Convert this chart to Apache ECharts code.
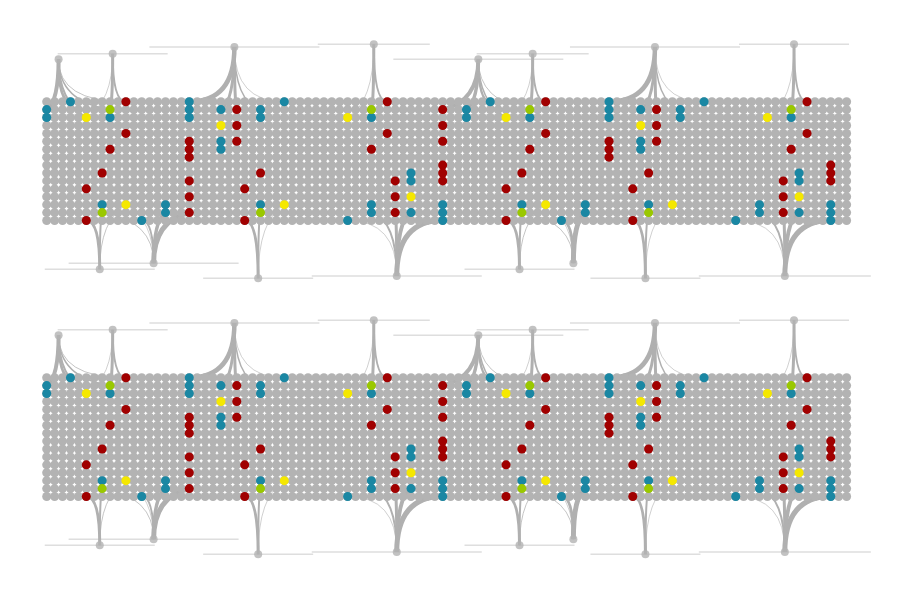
<!DOCTYPE html>
<html><head><meta charset="utf-8">
<script src="https://cdn.jsdelivr.net/npm/echarts@6/dist/echarts.min.js"></script>
<style>html,body{margin:0;padding:0;background:#fff}#c{width:898px;height:614px}</style>
</head><body><div id="c"></div>
<script>
// ---- categories (cell lattice) ----
const columns = Array.from({length: 102}, (_, i) => i);
const rowsIdx = Array.from({length: 16}, (_, i) => i);

// ---- highlighted cells [column, row] ----
const tealNodes = [[0,1],[0,2],[3,0],[7,13],[8,2],[12,15],[15,13],[15,14],[18,0],[18,1],[18,2],[22,1],[22,5],[22,6],[27,1],[27,2],[27,13],[30,0],[38,15],[41,2],[41,13],[41,14],[46,9],[46,10],[46,14],[50,13],[50,14],[50,15],
  [53,1],[53,2],[56,0],[60,13],[61,2],[65,15],[68,13],[68,14],[71,0],[71,1],[71,2],[75,1],[75,5],[75,6],[76,13],[80,1],[80,2],[83,0],[87,15],[90,13],[90,14],[94,2],[95,9],[95,10],[95,14],[99,13],[99,14],[99,15]];
const redNodes = [[5,11],[5,15],[7,9],[8,6],[10,0],[10,4],[18,5],[18,6],[18,7],[18,10],[18,12],[18,14],[24,1],[24,3],[24,5],[25,11],[25,15],[27,9],[41,6],[43,0],[43,4],[44,10],[44,12],[44,14],[50,1],[50,3],[50,5],[50,8],[50,9],[50,10],
  [58,11],[58,15],[60,9],[61,6],[63,0],[63,4],[71,5],[71,6],[71,7],[74,11],[74,15],[76,9],[77,1],[77,3],[77,5],[93,10],[93,12],[93,14],[94,6],[96,0],[96,4],[99,8],[99,9],[99,10]];
const yellowNodes = [[5,2],[10,13],[22,3],[30,13],[38,2],[46,12],[58,2],[63,13],[75,3],[79,13],[91,2],[95,12]];
const greenNodes = [[7,14],[8,1],[27,14],[41,1],[60,14],[61,1],[76,14],[94,1]];

// ---- hubs ----
const hubNames = ['A','B','C','D','E','F','G','H','a','b','c','d','e','f','g','h'];
const hubCols = [1.5,8.33,23.7,41.3,54.5,61.36,76.8,94.36, 6.7,13.5,26.7,44.2,59.7,66.5,75.6,93.2];
const hubRows = [-5.35,-6.06,-6.9,-7.25,-5.35,-6.06,-6.9,-7.25, 21.16,20.4,22.3,22.0,21.16,20.4,22.3,22.0];

// ---- edges: [hub, column, row, weight] ----
const edges = [
  ['A',0,1,4],['A',3,0,3],['A',5,2,2],['A',8,1,1.5],['A',10,0,1],
  ['B',8,1,3],['B',10,0,2],['B',5,2,0.8],
  ['C',18,0,4.5],['C',22,1,3],['C',24,1,3],['C',27,1,1.5],['C',30,0,0.8],
  ['D',38,2,0.8],['D',41,1,3],['D',43,0,2],
  ['E',50,1,4],['E',53,1,3.5],['E',56,0,2.5],['E',58,2,1.5],['E',61,1,1],
  ['F',61,1,3],['F',63,0,2],['F',58,2,0.8],
  ['G',71,0,4.5],['G',75,1,3],['G',77,1,3],['G',80,1,1.5],['G',83,0,0.8],
  ['H',91,2,0.8],['H',94,1,3],['H',96,0,2],
  ['a',5,15,3],['a',7,14,2],['a',10,13,1],
  ['b',18,14,5],['b',15,14,3.5],['b',12,15,2],['b',7,14,1],['b',10,13,0.8],
  ['c',25,15,3],['c',27,14,2],['c',30,13,0.8],
  ['d',50,15,5],['d',46,14,4],['d',44,14,3],['d',41,14,2],['d',38,15,0.8],
  ['e',58,15,3],['e',60,14,2],['e',63,13,1],
  ['f',68,14,5],['f',65,15,3],['f',60,14,1],['f',63,13,0.8],
  ['g',74,15,3],['g',76,14,2],['g',79,13,0.8],
  ['h',99,15,5],['h',95,14,4],['h',93,14,3],['h',90,14,2],['h',87,15,0.8]
];

// ---- style (not data) ----
const hubLineHalf = [0,55,85,56,85,56,85,55, 55,85,55,85,55,0,55,86];
const COLORS = {gray:'#b3b3b3', teal:'#1a87a3', red:'#a10000', yellow:'#f5e800', green:'#9ac800', line:'#dedede', edge:'#b0b0b0'};
const SPACING = 7.92;

const grayCells = [];
columns.forEach(c => rowsIdx.forEach(r => grayCells.push([c, r])));
const firstRow = rowsIdx[0], lastRow = rowsIdx[rowsIdx.length - 1];

const hubData = hubNames.map((n, i) => [hubCols[i], hubRows[i], i]);
const edgeData = edges.map(e => {
  const i = hubNames.indexOf(e[0]);
  return [hubCols[i], hubRows[i], e[1], e[2], e[3]];
});

function edgeRender(params, api) {
  const hc = api.value(0), hr = api.value(1), tc = api.value(2), tr = api.value(3), w = api.value(4);
  const p0 = api.coord([hc, hr]);
  const p2 = api.coord([tc, tr]);
  const cp = api.coord([hc, hr < 0 ? firstRow : lastRow]);
  return {
    type: 'bezierCurve',
    shape: {x1: p0[0], y1: p0[1], x2: p2[0], y2: p2[1], cpx1: cp[0], cpy1: cp[1]},
    style: {fill: null, stroke: COLORS.edge, lineWidth: w, opacity: w < 1.2 ? 0.75 : 1}
  };
}
function hubLineRender(params, api) {
  const i = api.value(2);
  const half = hubLineHalf[i];
  if (!half) return null;
  const p = api.coord([api.value(0), api.value(1)]);
  return {
    type: 'line',
    shape: {x1: p[0] - half, y1: p[1], x2: p[0] + half, y2: p[1]},
    style: {stroke: COLORS.line, lineWidth: 1.5}
  };
}

const X_MIN = -4, X_MAX = 105, Y_MIN = -8, Y_MAX = 23;
const left0 = 46.7 + X_MIN * SPACING;
const top0 = 101.7 + Y_MIN * SPACING;
const panelOffset = 276;

const grids = [0, 1].map(p => ({
  left: left0, top: top0 + p * panelOffset,
  width: (X_MAX - X_MIN) * SPACING, height: (Y_MAX - Y_MIN) * SPACING,
  containLabel: false
}));
const xAxes = [0, 1].map(p => ({type:'value', gridIndex:p, min:X_MIN, max:X_MAX, show:false}));
const yAxes = [0, 1].map(p => ({type:'value', gridIndex:p, min:Y_MIN, max:Y_MAX, inverse:true, show:false}));

function dotSeries(p, data, color, z) {
  return {type:'scatter', xAxisIndex:p, yAxisIndex:p, data, symbol:'circle', symbolSize:9,
    itemStyle:{color, opacity:1}, z, clip:false, silent:true, animation:false};
}

const series = [];
[0, 1].forEach(p => {
  series.push({type:'custom', xAxisIndex:p, yAxisIndex:p, data:hubData, renderItem:hubLineRender,
    encode:{x:0, y:1}, z:1, clip:false, silent:true, animation:false});
  series.push({type:'custom', xAxisIndex:p, yAxisIndex:p, data:edgeData, renderItem:edgeRender,
    encode:{x:[0,2], y:[1,3]}, z:2, clip:false, silent:true, animation:false});
  series.push(dotSeries(p, grayCells, COLORS.gray, 3));
  series.push(dotSeries(p, tealNodes, COLORS.teal, 4));
  series.push(dotSeries(p, redNodes, COLORS.red, 4));
  series.push(dotSeries(p, yellowNodes, COLORS.yellow, 4));
  series.push(dotSeries(p, greenNodes, COLORS.green, 4));
  series.push({type:'scatter', xAxisIndex:p, yAxisIndex:p, data:hubData, symbol:'circle', symbolSize:8,
    itemStyle:{color:COLORS.gray}, z:5, clip:false, silent:true, animation:false});
});

const chart = echarts.init(document.getElementById('c'), null, {renderer:'canvas'});
chart.setOption({
  animation: false,
  backgroundColor: '#ffffff',
  grid: grids, xAxis: xAxes, yAxis: yAxes,
  tooltip: {show:false},
  series
});
</script>
</body></html>
